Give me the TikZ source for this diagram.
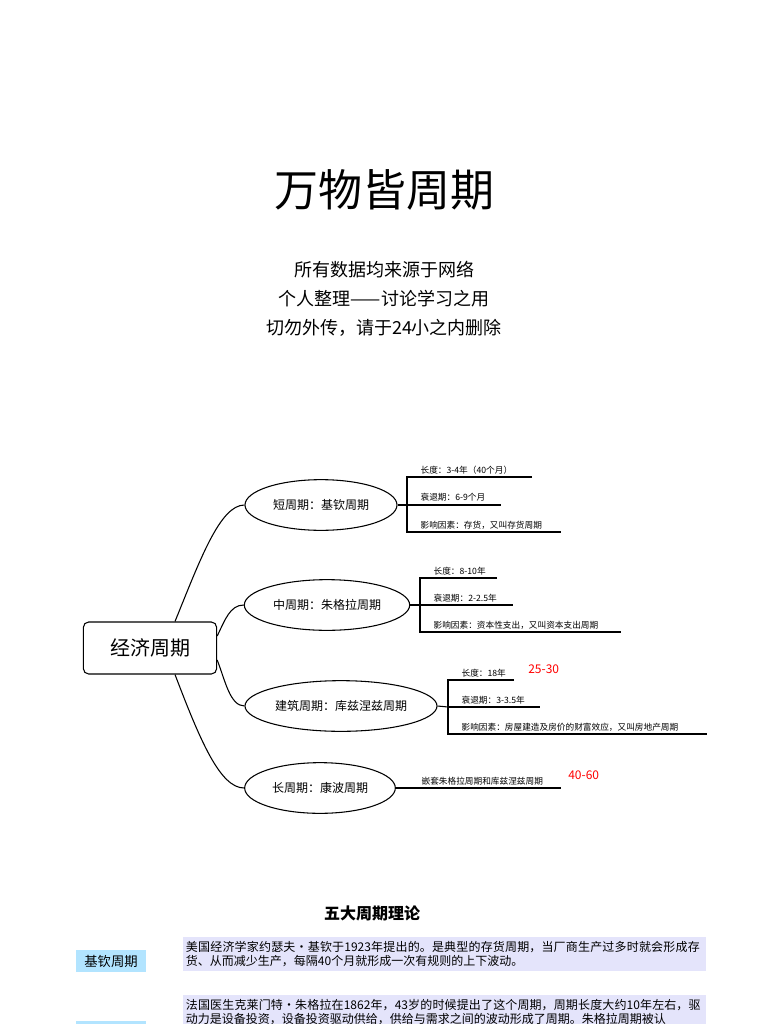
\documentclass[tikz,border=0pt]{standalone}
\usepackage{fontspec}
\setmainfont{Noto Sans CJK SC}
\XeTeXlinebreaklocale "zh"
\XeTeXlinebreakskip=0pt plus 1pt
\usetikzlibrary{positioning, shapes.geometric}

\begin{document}
\begin{tikzpicture}[
  x=0.75pt, y=-0.75pt,
  rootbox/.style={draw, thick, rounded corners=4pt, minimum width=100pt, minimum height=39pt, font=\fontsize{15}{18}\selectfont},
  branch/.style={draw, thick, ellipse, inner sep=0pt, font=\fontsize{9}{11}\selectfont},
  link/.style={thick},
  leaf/.style={anchor=south west, inner sep=1pt, font=\fontsize{6.5}{8}\selectfont},
  note/.style={anchor=west, inner sep=0pt, text=red, font=\fontsize{9}{11}\selectfont},
  tag/.style={fill=blue!35!cyan!30, minimum width=52pt, minimum height=17pt, inner sep=0pt, font=\fontsize{10}{12}\selectfont},
  para/.style={fill=gray!25!blue!12, anchor=north west, text width=388pt, align=left, inner sep=2pt, minimum height=25pt, font=\fontsize{9}{11}\selectfont}
]
\useasboundingbox (0,0) rectangle (768,1024);

% Title block
\node (title) at (384,190) {\fontsize{33}{38}\selectfont 万物皆周期};
\node (sub1) at (384,270) {\fontsize{13.5}{16}\selectfont 所有数据均来源于网络};
\node (sub2) at (384,299) {\fontsize{13.5}{16}\selectfont 个人整理——讨论学习之用};
\node (sub3) at (384,328) {\fontsize{13.5}{16}\selectfont 切勿外传，请于24小之内删除};

% Root and branches
\node[rootbox] (root) at (150,648) {经济周期};
\node[branch, minimum width=114pt, minimum height=38pt] (short) at (321,505) {短周期：基钦周期};
\node[branch, minimum width=124pt, minimum height=38pt] (mid) at (327,605) {中周期：朱格拉周期};
\node[branch, minimum width=144pt, minimum height=38pt] (build) at (341,706) {建筑周期：库兹涅兹周期};
\node[branch, minimum width=113pt, minimum height=38pt] (long) at (320,788) {长周期：康波周期};

\draw[link] (root.north) ++(25,0) .. controls (200,560) and (220,505) .. (short.west);
\draw[link] (root.east) ++(0,-12) .. controls (225,620) and (230,605) .. (mid.west);
\draw[link] (root.east) ++(0,12) .. controls (225,680) and (230,706) .. (build.west);
\draw[link] (root.south) ++(25,0) .. controls (200,740) and (220,788) .. (long.west);

% Short cycle leaves
\coordinate (s0) at (407,505);
\draw[link] (short.east) -- (s0);
\draw[link] (532,477) -- (407,477) -- (407,532) -- (561,532);
\draw[link] (s0) -- (501,505);
\node[leaf] (s1) at (419,476) {长度：3-4年（40个月）};
\node[leaf] (s2) at (419,503) {衰退期：6-9个月};
\node[leaf] (s3) at (419,531) {影响因素：存货，又叫存货周期};

% Mid cycle leaves
\coordinate (m0) at (420,605);
\draw[link] (mid.east) -- (m0);
\draw[link] (497,578) -- (420,578) -- (420,632) -- (621,632);
\draw[link] (m0) -- (513,605);
\node[leaf] (m1) at (432,577) {长度：8-10年};
\node[leaf] (m2) at (432,604) {衰退期：2-2.5年};
\node[leaf] (m3) at (432,631) {影响因素：资本性支出，又叫资本支出周期};

% Building cycle leaves
\coordinate (b0) at (448,707);
\draw[link] (build.east) -- (b0);
\draw[link] (514,680) -- (448,680) -- (448,734) -- (707,734);
\draw[link] (b0) -- (540,707);
\node[leaf] (b1) at (460,679) {长度：18年};
\node[leaf] (b2) at (460,706) {衰退期：3-3.5年};
\node[leaf] (b3) at (460,733) {影响因素：房屋建造及房价的财富效应，又叫房地产周期};
\node[note] (b4) at (528,669) {25-30};

% Long cycle leaf
\coordinate (l0) at (561,788);
\draw[link] (long.east) -- (l0);
\node[leaf] (l1) at (420,787) {嵌套朱格拉周期和库兹涅兹周期};
\node[note] (l2) at (568,775) {40-60};

% Five cycles table
\node (five) at (372,913) {\fontsize{12}{14}\selectfont\bfseries 五大周期理论};
\node[tag] (kitchin) at (111,961) {基钦周期};
\node[para] (kitchintext) at (183,937) {美国经济学家约瑟夫·基钦于1923年提出的。是典型的存货周期，当厂商生产过多时就会形成存货、从而减少生产，每隔40个月就形成一次有规则的上下波动。};
\node[para] (jugtext) at (183,995) {法国医生克莱门特·朱格拉在1862年，43岁的时候提出了这个周期，周期长度大约10年左右，驱动力是设备投资，设备投资驱动供给，供给与需求之间的波动形成了周期。朱格拉周期被认};
\node[tag, anchor=north west] (juglar) at (76,1021) {};
\end{tikzpicture}
\end{document}
